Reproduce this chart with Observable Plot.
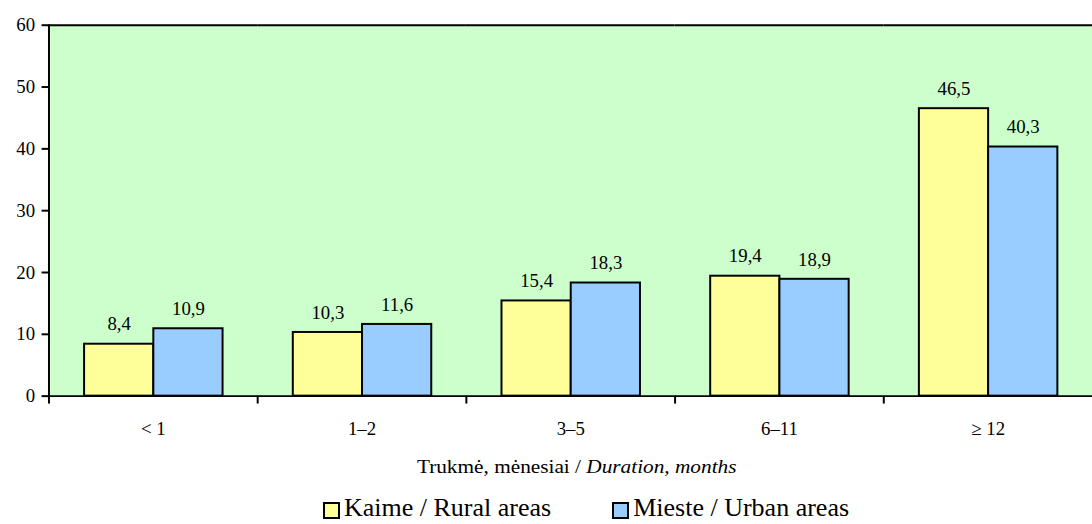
<!DOCTYPE html>
<html>
<head>
<meta charset="utf-8">
<script src="https://cdn.jsdelivr.net/npm/d3@7"></script>
<script src="https://cdn.jsdelivr.net/npm/@observablehq/plot@0.6"></script>
<style>
  html, body { margin: 0; padding: 0; background: #fff; overflow: hidden; }
  #wrap { width: 1092px; overflow: hidden; font-family: "Liberation Serif", Tinos, "Times New Roman", Times, "DejaVu Serif", serif; color: #000; }
  #xtitle { width: 1104px; padding-left: 49px; box-sizing: border-box; text-align: center; font-size: 19px; height: 30px; line-height: 30px; margin-top: 7px; }
  #xtitle span { display: inline-block; transform: scaleX(1.12); }
  #legend { display: flex; align-items: flex-start; margin-left: 323px; margin-top: 11px; height: 30px; line-height: 30px; font-size: 26px; white-space: nowrap; }
  .item { display: flex; align-items: flex-start; margin-right: 61px; }
  .sw { width: 13px; height: 13px; border: 2px solid #000; margin-right: 4px; margin-top: 9px; }
</style>
</head>
<body>
<div id="wrap">
  <div id="chart"></div>
  <div id="xtitle"><span>Trukmė, mėnesiai / <i>Duration, months</i></span></div>
  <div id="legend"></div>
</div>
<script>
const categories = ["< 1", "1–2", "3–5", "6–11", "≥ 12"];
const seriesNames = ["Kaime / Rural areas", "Mieste / Urban areas"];
const rural = [8.4, 10.3, 15.4, 19.4, 46.5];
const urban = [10.9, 11.6, 18.3, 18.9, 40.3];
const yTicks = [0, 10, 20, 30, 40, 50, 60];
const colors = ["#FFFF99", "#99CCFF"];

const data = [];
categories.forEach((c, i) => {
  data.push({cat: c, series: seriesNames[0], value: rural[i]});
  data.push({cat: c, series: seriesNames[1], value: urban[i]});
});

const W = 1104, ML = 49;
const band = (W - ML) / categories.length;
const fmt = v => v.toFixed(1).replace(".", ",");
const FONT = "'Liberation Serif', Tinos, 'Times New Roman', Times, 'DejaVu Serif', serif";

const chart = Plot.plot({
  width: W,
  height: 450,
  marginLeft: ML,
  marginRight: 0,
  marginTop: 25,
  marginBottom: 50,
  style: {fontFamily: FONT, fontSize: "18px", color: "#000", background: "transparent"},
  fx: {domain: categories, padding: 0, label: null, axis: null},
  x: {domain: seriesNames, paddingInner: 0, paddingOuter: 0.5, axis: null},
  y: {domain: [0, 60], label: null, axis: null},
  color: {domain: seriesNames, range: colors},
  marks: [
    Plot.frame({fill: "#CCFFCC", stroke: null, facet: "super"}),
    Plot.barY(data, {fx: "cat", x: "series", y: "value", fill: "series", stroke: "#000", strokeWidth: 2}),
    Plot.text(data, {fx: "cat", x: "series", y: "value", text: d => fmt(d.value), dy: -20, fontSize: 19, fill: "#000", fontFamily: FONT}),
    Plot.ruleY([0], {stroke: "#000", strokeWidth: 2}),
    Plot.ruleY([60], {stroke: "#000", strokeWidth: 2}),
    Plot.frame({anchor: "left", stroke: "#000", strokeWidth: 2, facet: "super"}),
    Plot.axisY({ticks: yTicks, tickSize: 7, tickPadding: 7, tickFormat: d => d, fontSize: 19, label: null, strokeWidth: 2, fontFamily: FONT}),
    Plot.axisFx({anchor: "bottom", text: null, tickSize: 8, dx: -band / 2, strokeWidth: 2, label: null}),
    Plot.axisFx({anchor: "bottom", tickSize: 0, tickPadding: 26, fontSize: 19, label: null, fontFamily: FONT})
  ]
});
document.getElementById("chart").appendChild(chart);

const legend = document.getElementById("legend");
seriesNames.forEach((s, i) => {
  const it = document.createElement("div");
  it.className = "item";
  const sw = document.createElement("div");
  sw.className = "sw";
  sw.style.background = colors[i];
  const t = document.createElement("span");
  t.textContent = s;
  it.appendChild(sw);
  it.appendChild(t);
  legend.appendChild(it);
});
</script>
</body>
</html>
